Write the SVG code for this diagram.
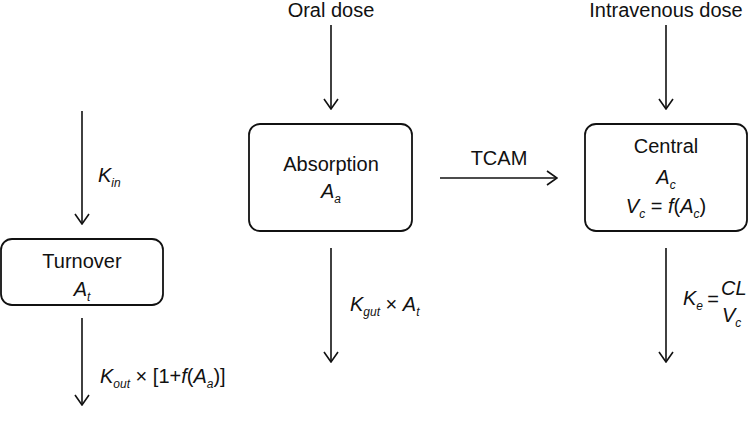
<svg xmlns="http://www.w3.org/2000/svg" width="749" height="433" viewBox="0 0 749 433">
<style>
text{font-family:"Liberation Sans",Arial,sans-serif;font-size:20px;fill:#111}
.c{text-anchor:middle}
.i{font-style:italic}
.s{font-style:italic;font-size:12px}
.box{fill:#fff;stroke:#111;stroke-width:1.8}
.ln{fill:none;stroke:#111;stroke-width:1.6}
</style>
<defs>
<marker id="ah" viewBox="0 0 12 16" refX="11" refY="8" markerWidth="12" markerHeight="16" markerUnits="userSpaceOnUse" orient="auto">
<polyline points="1,1 11,8 1,15" fill="none" stroke="#111" stroke-width="1.6"/>
</marker>
</defs>
<g id="connectors">
<line class="ln" x1="331" y1="25" x2="331" y2="109" marker-end="url(#ah)"/>
<line class="ln" x1="666" y1="25" x2="666" y2="109" marker-end="url(#ah)"/>
<line class="ln" x1="82" y1="111" x2="82" y2="224" marker-end="url(#ah)"/>
<line class="ln" x1="82" y1="318" x2="82" y2="405" marker-end="url(#ah)"/>
<line class="ln" x1="331" y1="248" x2="331" y2="362" marker-end="url(#ah)"/>
<line class="ln" x1="666" y1="248" x2="666" y2="362" marker-end="url(#ah)"/>
<line class="ln" x1="440" y1="178" x2="557" y2="178" marker-end="url(#ah)"/>
<text x="98" y="182"><tspan class="i">K</tspan><tspan class="s" dy="5">in</tspan></text>
<text x="100" y="383"><tspan class="i">K</tspan><tspan class="s" dy="5">out</tspan><tspan dy="-5"> × [1+</tspan><tspan class="i">f</tspan><tspan>(</tspan><tspan class="i">A</tspan><tspan class="s" dy="5">a</tspan><tspan dy="-5">)]</tspan></text>
<text x="350" y="311"><tspan class="i">K</tspan><tspan class="s" dy="5">gut</tspan><tspan dy="-5"> × </tspan><tspan class="i">A</tspan><tspan class="s" dy="5">t</tspan></text>
<text x="499" y="165" class="c">TCAM</text>
<text x="683" y="305"><tspan class="i">K</tspan><tspan class="s" dy="5">e</tspan></text>
<text x="713" y="306" class="c">=</text>
<text x="721" y="295" class="i">CL</text>
<text x="722" y="322" class="i">V<tspan class="s" dy="5">c</tspan></text>
</g>
<g id="oral-dose"><text x="331" y="17" class="c">Oral dose</text></g>
<g id="iv-dose"><text x="666" y="17" class="c">Intravenous dose</text></g>
<g id="turnover">
<rect class="box" x="1" y="239" width="162" height="66" rx="11"/>
<text x="82" y="268" class="c">Turnover</text>
<text x="82" y="296" class="c"><tspan class="i">A</tspan><tspan class="s" dy="5">t</tspan></text>
</g>
<g id="absorption">
<rect class="box" x="249" y="124" width="163" height="107" rx="11"/>
<text x="331" y="171" class="c">Absorption</text>
<text x="331" y="198" class="c"><tspan class="i">A</tspan><tspan class="s" dy="5">a</tspan></text>
</g>
<g id="central">
<rect class="box" x="585" y="124" width="162" height="107" rx="11"/>
<text x="666" y="153" class="c">Central</text>
<text x="666" y="184" class="c"><tspan class="i">A</tspan><tspan class="s" dy="5">c</tspan></text>
<text x="666" y="213" class="c"><tspan class="i">V</tspan><tspan class="s" dy="5">c</tspan><tspan dy="-5"> = </tspan><tspan class="i">f</tspan><tspan>(</tspan><tspan class="i">A</tspan><tspan class="s" dy="5">c</tspan><tspan dy="-5">)</tspan></text>
</g>
</svg>
